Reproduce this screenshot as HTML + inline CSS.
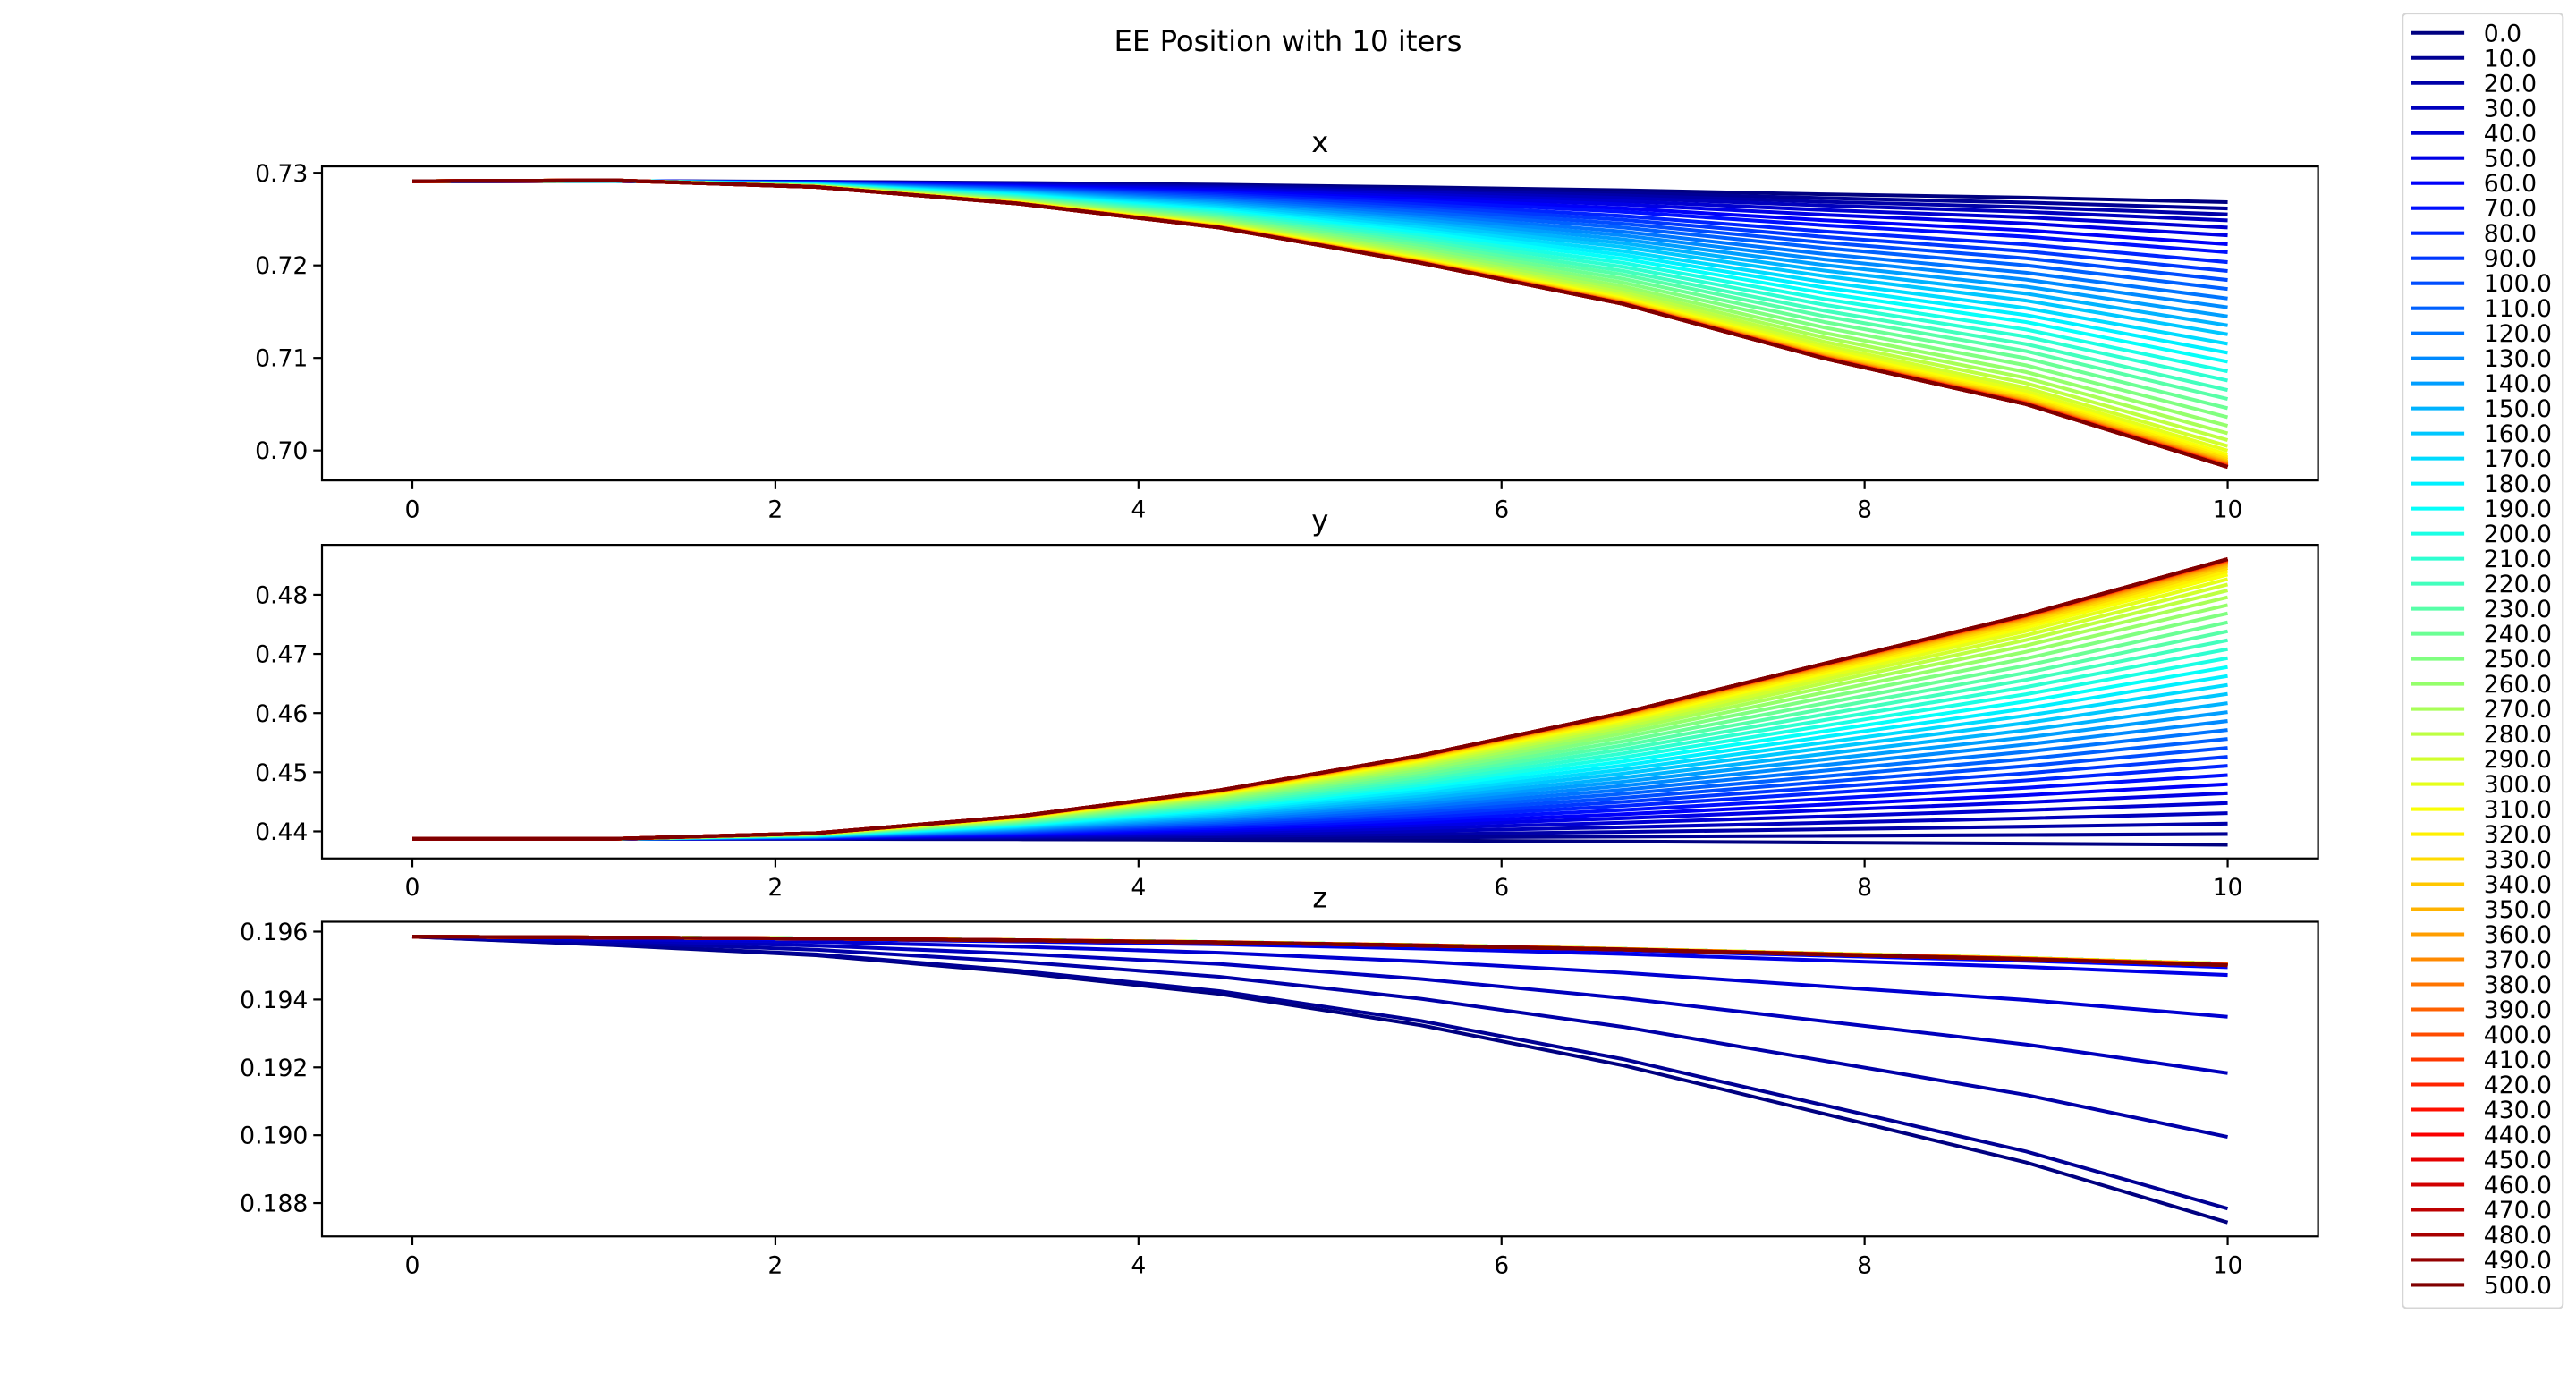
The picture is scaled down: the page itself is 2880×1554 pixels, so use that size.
<!DOCTYPE html>
<html><head><meta charset="utf-8"><style>
html,body{margin:0;padding:0;background:#fff;}
svg{display:block;}
text{font-family:"DejaVu Sans","Liberation Sans",sans-serif;fill:#000;}
</style></head><body>
<svg id="fig" width="2880" height="1554" viewBox="0 0 1568 846" preserveAspectRatio="none" xmlns="http://www.w3.org/2000/svg">
<rect width="1568" height="846" fill="#fff"/>
<text x="784" y="30.9" font-size="17.6" text-anchor="middle">EE Position with 10 iters</text>
</svg>
<script>
// ---- data ----
const timeSteps = [0, 1.111, 2.222, 3.333, 4.444, 5.556, 6.667, 7.778, 8.889, 10];
const iterLabels = ["0.0","10.0","20.0","30.0","40.0","50.0","60.0","70.0","80.0","90.0","100.0","110.0","120.0","130.0","140.0","150.0","160.0","170.0","180.0","190.0","200.0","210.0","220.0","230.0","240.0","250.0","260.0","270.0","280.0","290.0","300.0","310.0","320.0","330.0","340.0","350.0","360.0","370.0","380.0","390.0","400.0","410.0","420.0","430.0","440.0","450.0","460.0","470.0","480.0","490.0","500.0"];
const xStart = 0.72909;
const xEnd = [0.72683,0.72615,0.72551,0.72486,0.72409,0.72325,0.72229,0.72142,0.72035,0.71939,0.71842,0.71745,0.71642,0.71546,0.71449,0.71352,0.71256,0.71153,0.71056,0.70959,0.70856,0.70756,0.70653,0.70557,0.70457,0.70360,0.70267,0.70186,0.70112,0.70048,0.69999,0.69957,0.69925,0.69903,0.69883,0.69870,0.69861,0.69851,0.69845,0.69838,0.69835,0.69832,0.69829,0.69825,0.69822,0.69822,0.69822,0.69822,0.69822,0.69822,0.69822];
const xProfile = [0,-0.003,0.02,0.078,0.162,0.286,0.429,0.62,0.78,1];
const yStart = 0.43875;
const yEnd = [0.43773,0.43955,0.44131,0.44308,0.44479,0.44645,0.44797,0.44953,0.45109,0.45260,0.45412,0.45563,0.45714,0.45866,0.46017,0.46168,0.46324,0.46475,0.46627,0.46778,0.46929,0.47080,0.47232,0.47383,0.47534,0.47685,0.47826,0.47958,0.48074,0.48174,0.48265,0.48341,0.48401,0.48452,0.48492,0.48522,0.48542,0.48558,0.48573,0.48583,0.48588,0.48593,0.48598,0.48598,0.48603,0.48603,0.48603,0.48603,0.48603,0.48603,0.48603];
const yProfile = [0,0,0.02,0.08,0.173,0.298,0.45,0.626,0.80,1];
const zStart = 0.19585;
const zEnd = [0.18743,0.18784,0.18995,0.19183,0.19349,0.19472,0.19495,0.19500,0.19503,0.19504,0.19505,0.19505,0.19505,0.19505,0.19505,0.19505,0.19505,0.19505,0.19505,0.19505,0.19505,0.19505,0.19505,0.19505,0.19505,0.19505,0.19505,0.19505,0.19505,0.19505,0.19505,0.19505,0.19504,0.19504,0.19504,0.19503,0.19503,0.19503,0.19503,0.19502,0.19502,0.19502,0.19502,0.19502,0.19501,0.19501,0.19501,0.19501,0.19501,0.19501,0.19501];
const zProfile = [0,0.03,0.065,0.125,0.20,0.31,0.45,0.62,0.79,1];
const xTicks = [0,2,4,6,8,10];
const yTicksX = [0.70,0.71,0.72,0.73];
const yTicksY = [0.44,0.45,0.46,0.47,0.48];
const yTicksZ = [0.188,0.190,0.192,0.194,0.196];

// ---- layout ----
const NS = "http://www.w3.org/2000/svg";
const svg = document.getElementById('fig');
const L = 196, R = 1411;
const panels = [
  {name:'x', top:101.3, bottom:292.4, vmin:0.69677, vmax:0.73069, start:xStart, end:xEnd, prof:xProfile, ticks:yTicksX, dec:2},
  {name:'y', top:331.6, bottom:522.5, vmin:0.43542, vmax:0.48844, start:yStart, end:yEnd, prof:yProfile, ticks:yTicksY, dec:2},
  {name:'z', top:561.0, bottom:752.5, vmin:0.18702, vmax:0.19629, start:zStart, end:zEnd, prof:zProfile, ticks:yTicksZ, dec:3}
];
const xMin = -0.4977, xMax = 10.498;
function sx(v){ return L + (v - xMin) / (xMax - xMin) * (R - L); }
function jet(t){
  const r = Math.min(Math.max(Math.min(4*t-1.5, -4*t+4.5),0),1);
  const g = Math.min(Math.max(Math.min(4*t-0.5, -4*t+3.5),0),1);
  const b = Math.min(Math.max(Math.min(4*t+0.5, -4*t+2.5),0),1);
  return `rgb(${Math.round(r*255)},${Math.round(g*255)},${Math.round(b*255)})`;
}
function mk(tag, attrs, parent){
  const e = document.createElementNS(NS, tag);
  for (const k in attrs) e.setAttribute(k, attrs[k]);
  (parent||svg).appendChild(e);
  return e;
}
const N = iterLabels.length;
panels.forEach(p => {
  const g = mk('g', {});
  
  
  const sy = v => p.bottom - (v - p.vmin) / (p.vmax - p.vmin) * (p.bottom - p.top);
  const clipId = 'clip-' + p.name;
  const cp = mk('clipPath', {id: clipId}, g);
  mk('rect', {x:L, y:p.top, width:R-L, height:p.bottom-p.top}, cp);
  const lg = mk('g', {'clip-path': `url(#${clipId})`}, g);
  for (let k = 0; k < N; k++){
    const pts = timeSteps.map((t,i) => {
      const v = p.start + (p.end[k] - p.start) * p.prof[i];
      return sx(t).toFixed(2) + ',' + sy(v).toFixed(2);
    }).join(' ');
    const pl = mk('polyline', {points: pts, fill:'none', stroke: jet(k/(N-1)), 'stroke-width': 2.2, 'stroke-linejoin':'round'}, lg);
    
    
  }
  const fr = mk('rect', {x:L, y:p.top, width:R-L, height:p.bottom-p.top, fill:'none', stroke:'#000', 'stroke-width':1.2}, g);
  
  
  xTicks.forEach(t => {
    const X = sx(t);
    mk('line', {x1:X, x2:X, y1:p.bottom, y2:p.bottom+5.3, stroke:'#000', 'stroke-width':1.2}, g);
    const tx = mk('text', {x:X, y:p.bottom+22.5, 'font-size':14.5, 'text-anchor':'middle'}, g);
    tx.textContent = String(t);
    
    
  });
  p.ticks.forEach(v => {
    const Y = sy(v);
    mk('line', {x1:L-5.3, x2:L, y1:Y, y2:Y, stroke:'#000', 'stroke-width':1.2}, g);
    const tx = mk('text', {x:L-8.5, y:Y+5.2, 'font-size':14.5, 'text-anchor':'end'}, g);
    tx.textContent = v.toFixed(p.dec);
    
    
  });
  const tt = mk('text', {x:(L+R)/2, y:p.top-8.8, 'font-size':17.6, 'text-anchor':'middle'}, g);
  tt.textContent = p.name;
  
  
});
// legend
const lgG = mk('g', {});


mk('rect', {x:1462.5, y:8.2, width:97.5, height:788, rx:2.5, fill:'#fff', stroke:'#d5d5d5', 'stroke-width':1.1}, lgG);
for (let k = 0; k < N; k++){
  const Y = 20 + k * 15.24;
  const e = mk('g', {}, lgG);
  
  
  mk('line', {x1:1467.3, x2:1500, y1:Y, y2:Y, stroke:jet(k/(N-1)), 'stroke-width':2.2}, e);
  const tx = mk('text', {x:1511.8, y:Y+5.2, 'font-size':14.5}, e);
  tx.textContent = iterLabels[k];
}
</script>
</body></html>
